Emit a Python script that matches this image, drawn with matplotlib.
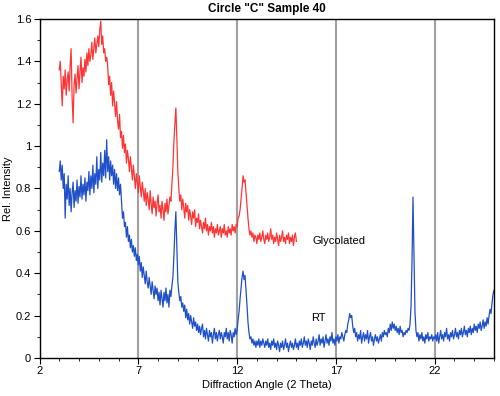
import numpy as np
import matplotlib
matplotlib.use("Agg")
from matplotlib import pyplot as plt
from matplotlib.ticker import MultipleLocator, FormatStrFormatter

plt.rcParams['font.family'] = ['Liberation Sans', 'DejaVu Sans']

# Glycolated scan, 3.00 .. 15.00 deg 2-theta, 0.05 step
glycolated = [
    1.36, 1.40, 1.30, 1.19, 1.33, 1.27, 1.36, 1.24, 1.31, 1.35,
    1.26, 1.38, 1.46, 1.23, 1.11, 1.29, 1.34, 1.25, 1.32, 1.38,
    1.27, 1.35, 1.42, 1.30, 1.37, 1.33, 1.41, 1.35, 1.44, 1.38,
    1.46, 1.40, 1.43, 1.49, 1.41, 1.46, 1.51, 1.44, 1.48, 1.52,
    1.47, 1.55, 1.59, 1.48, 1.52, 1.44, 1.46, 1.40, 1.42, 1.38,
    1.29, 1.33, 1.24, 1.30, 1.19, 1.26, 1.20, 1.14, 1.21, 1.12,
    1.08, 1.15, 1.04, 1.07, 0.99, 1.05, 0.97, 1.01, 0.92, 0.98,
    0.94, 0.88, 0.95, 0.90, 0.84, 0.91, 0.86, 0.80, 0.87, 0.83,
    0.78, 0.86, 0.81, 0.76, 0.83, 0.79, 0.74, 0.80, 0.72, 0.78,
    0.75, 0.70, 0.79, 0.73, 0.68, 0.76, 0.71, 0.74, 0.67, 0.73,
    0.77, 0.69, 0.72, 0.66, 0.74, 0.70, 0.65, 0.73, 0.69, 0.75,
    0.68, 0.72, 0.76, 0.74, 0.82, 0.90, 1.02, 1.10, 1.18, 1.04,
    0.88, 0.80, 0.74, 0.77, 0.70, 0.75, 0.71, 0.66, 0.73, 0.69,
    0.72, 0.65, 0.70, 0.67, 0.63, 0.69, 0.66, 0.70, 0.62, 0.66,
    0.64, 0.68, 0.61, 0.65, 0.62, 0.59, 0.64, 0.61, 0.66, 0.60,
    0.63, 0.58, 0.62, 0.60, 0.64, 0.59, 0.62, 0.57, 0.61, 0.59,
    0.63, 0.58, 0.60, 0.62, 0.57, 0.61, 0.59, 0.63, 0.58, 0.60,
    0.57, 0.62, 0.59, 0.61, 0.58, 0.63, 0.60, 0.62, 0.59, 0.63,
    0.62, 0.66, 0.67, 0.70, 0.75, 0.80, 0.86, 0.83, 0.84, 0.78,
    0.72, 0.66, 0.61, 0.58, 0.60, 0.57, 0.59, 0.55, 0.58, 0.57,
    0.54, 0.58, 0.56, 0.59, 0.55, 0.57, 0.60, 0.56, 0.54, 0.58,
    0.56, 0.59, 0.55, 0.57, 0.61, 0.56, 0.58, 0.54, 0.57, 0.55,
    0.59, 0.56, 0.53, 0.58, 0.55, 0.57, 0.60, 0.55, 0.57, 0.54,
    0.58, 0.56, 0.59, 0.54, 0.57, 0.55, 0.58, 0.53, 0.57, 0.59,
    0.55,
]

# RT scan, 3.00 .. 25.00 deg 2-theta, 0.05 step
rt = [
    0.88, 0.93, 0.84, 0.91, 0.80, 0.87, 0.66, 0.82, 0.75, 0.86,
    0.72, 0.80, 0.69, 0.78, 0.83, 0.71, 0.79, 0.74, 0.84, 0.73,
    0.81, 0.76, 0.86, 0.75, 0.82, 0.77, 0.85, 0.74, 0.83, 0.79,
    0.88, 0.77, 0.86, 0.80, 0.91, 0.78, 0.87, 0.82, 0.95, 0.80,
    0.89, 0.84, 0.97, 0.83, 0.92, 0.86, 0.98, 0.85, 1.03, 0.88,
    0.95, 0.84, 0.93, 0.86, 0.91, 0.82, 0.89, 0.80, 0.87, 0.79,
    0.85, 0.77, 0.82, 0.74, 0.66, 0.69, 0.62, 0.64, 0.57, 0.62,
    0.55, 0.58, 0.52, 0.56, 0.50, 0.53, 0.48, 0.52, 0.46, 0.49,
    0.44, 0.48, 0.41, 0.45, 0.38, 0.43, 0.39, 0.35, 0.41, 0.36,
    0.33, 0.38, 0.34, 0.30, 0.36, 0.32, 0.28, 0.34, 0.30, 0.33,
    0.27, 0.31, 0.25, 0.32, 0.28, 0.24, 0.31, 0.27, 0.33, 0.26,
    0.30, 0.24, 0.32, 0.29, 0.34, 0.38, 0.48, 0.60, 0.69, 0.52,
    0.36, 0.31, 0.27, 0.29, 0.24, 0.26, 0.22, 0.25, 0.19, 0.23,
    0.18, 0.21, 0.16, 0.20, 0.17, 0.14, 0.19, 0.15, 0.17, 0.13,
    0.16, 0.12, 0.15, 0.11, 0.14, 0.16, 0.10, 0.13, 0.09, 0.14,
    0.11, 0.08, 0.13, 0.10, 0.12, 0.07, 0.11, 0.14, 0.09, 0.12,
    0.08, 0.11, 0.13, 0.09, 0.12, 0.10, 0.07, 0.12, 0.10, 0.14,
    0.09, 0.12, 0.08, 0.13, 0.11, 0.07, 0.12, 0.10, 0.14, 0.11,
    0.13, 0.18, 0.22, 0.28, 0.33, 0.38, 0.41, 0.37, 0.39, 0.32,
    0.25, 0.17, 0.12, 0.09, 0.10, 0.07, 0.09, 0.06, 0.08, 0.05,
    0.08, 0.06, 0.09, 0.05, 0.08, 0.06, 0.09, 0.07, 0.05, 0.08,
    0.06, 0.09, 0.05, 0.07, 0.04, 0.08, 0.06, 0.09, 0.05, 0.07,
    0.04, 0.08, 0.06, 0.03, 0.07, 0.05, 0.08, 0.04, 0.06, 0.09,
    0.05, 0.07, 0.03, 0.06, 0.08, 0.05, 0.07, 0.04, 0.06, 0.09,
    0.05, 0.07, 0.04, 0.08, 0.06, 0.09, 0.05, 0.07, 0.10, 0.06,
    0.08, 0.05, 0.09, 0.07, 0.04, 0.08, 0.06, 0.10, 0.07, 0.05,
    0.09, 0.06, 0.08, 0.11, 0.06, 0.09, 0.07, 0.10, 0.05, 0.08,
    0.11, 0.07, 0.09, 0.06, 0.10, 0.08, 0.12, 0.07, 0.09, 0.06,
    0.10, 0.08, 0.11, 0.07, 0.10, 0.09, 0.12, 0.10, 0.08, 0.11,
    0.13, 0.12, 0.16, 0.18, 0.21, 0.19, 0.20, 0.15, 0.12, 0.14,
    0.10, 0.12, 0.08, 0.11, 0.09, 0.13, 0.07, 0.10, 0.12, 0.08,
    0.11, 0.09, 0.13, 0.07, 0.10, 0.12, 0.08, 0.10, 0.06, 0.09,
    0.11, 0.08, 0.10, 0.07, 0.09, 0.11, 0.08, 0.12, 0.10, 0.13,
    0.11, 0.12, 0.10, 0.14, 0.12, 0.16, 0.13, 0.17, 0.14, 0.16,
    0.13, 0.15, 0.12, 0.14, 0.11, 0.15, 0.12, 0.13, 0.10, 0.12,
    0.11, 0.13, 0.12, 0.14, 0.13, 0.16, 0.24, 0.45, 0.76, 0.50,
    0.22, 0.13, 0.10, 0.12, 0.08, 0.11, 0.09, 0.12, 0.08, 0.10,
    0.07, 0.11, 0.09, 0.12, 0.08, 0.10, 0.09, 0.11, 0.08, 0.10,
    0.09, 0.11, 0.08, 0.12, 0.07, 0.10, 0.13, 0.09, 0.11, 0.08,
    0.12, 0.10, 0.14, 0.09, 0.11, 0.08, 0.12, 0.10, 0.13, 0.09,
    0.11, 0.14, 0.10, 0.12, 0.09, 0.13, 0.11, 0.14, 0.10, 0.12,
    0.15, 0.11, 0.13, 0.10, 0.14, 0.12, 0.15, 0.11, 0.14, 0.12,
    0.16, 0.13, 0.15, 0.12, 0.16, 0.14, 0.17, 0.13, 0.15, 0.18,
    0.14, 0.17, 0.15, 0.19, 0.16, 0.20, 0.23, 0.21, 0.26, 0.30,
    0.32,
]

xticks = [2, 7, 12, 17, 22]

gly_x = np.linspace(3.0, 15.0, len(glycolated))
rt_x = np.linspace(3.0, 25.0, len(rt))

fig = plt.figure(figsize=(5.0, 3.96), dpi=100)
ax = fig.add_axes([0.079, 0.096, 0.909, 0.856])

ax.plot(gly_x, glycolated, color='#ff3535', lw=0.9)
ax.plot(rt_x, rt, color='#1f50c8', lw=0.9)

ax.text(15.8, 0.55, 'Glycolated', fontsize=8, va='center')
ax.text(15.76, 0.19, 'RT', fontsize=8, va='center')

ax.set_xlim(2, 25)
ax.set_ylim(0, 1.6)
ax.set_xticks(xticks)
ax.xaxis.set_minor_locator(MultipleLocator(1))
ax.yaxis.set_major_locator(MultipleLocator(0.2))
ax.yaxis.set_minor_locator(MultipleLocator(0.1))
ax.yaxis.set_major_formatter(FormatStrFormatter('%g'))
ax.tick_params(which='major', length=4, width=0.8, labelsize=8, pad=2)
ax.tick_params(which='minor', length=2, width=0.6)
ax.grid(axis='x', which='major', color='#a0a0a0', lw=1.5)
for s in ax.spines.values():
    s.set_linewidth(1.0)

ax.set_title('Circle "C" Sample 40', fontsize=8.5, fontweight='bold', pad=5)
ax.set_xlabel('Diffraction Angle (2 Theta)', fontsize=8, labelpad=3)
ax.set_ylabel('Rel. Intensity', fontsize=8, labelpad=2)

plt.savefig('out.png', dpi=100)
